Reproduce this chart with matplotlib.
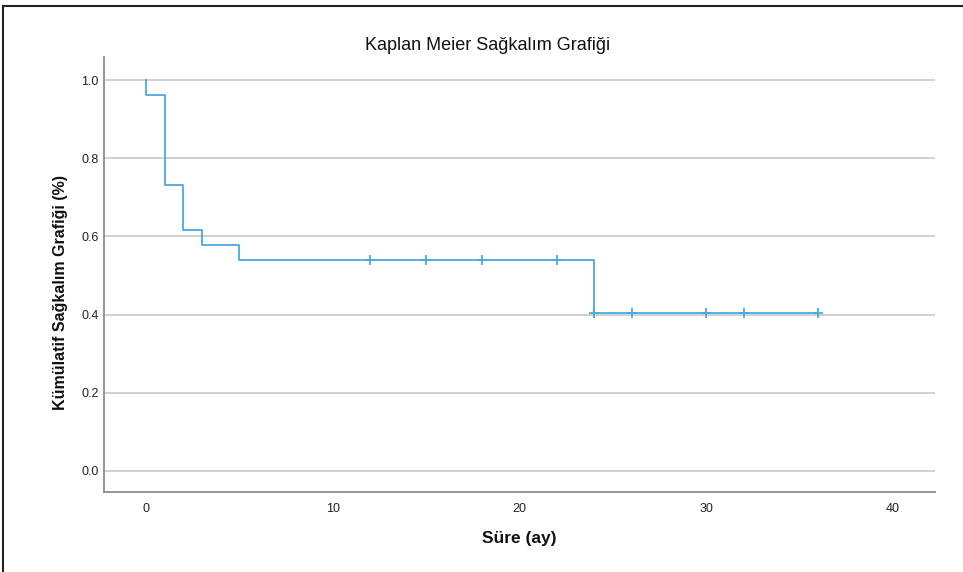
import matplotlib
matplotlib.use("Agg")
import matplotlib.pyplot as plt
from matplotlib.lines import Line2D
import numpy as np

plt.rcParams['font.family'] = ['Liberation Sans', 'DejaVu Sans']

# Kaplan-Meier step data (event times and survival after each event)
event_times = [0, 0, 1, 2, 3, 5, 24, 36]
survival = [1.0, 0.9615, 0.7308, 0.6154, 0.5769, 0.5385, 0.4038, 0.4038]
censor_times = [12, 15, 18, 22, 24, 26, 30, 32, 36]
x_ticks = [0, 10, 20, 30, 40]
y_ticks = [0.0, 0.2, 0.4, 0.6, 0.8, 1.0]

title = "Kaplan Meier Sağkalım Grafiği"
xlabel = "Süre (ay)"
ylabel = "Kümülatif Sağkalım Grafiği (%)"

def surv_at(t):
    val = survival[0]
    for et, s in zip(event_times, survival):
        if et <= t:
            val = s
    return val

censor_vals = [surv_at(t) for t in censor_times]

fig = plt.figure(figsize=(9.63, 5.72), dpi=100)
W, H = 963, 572
ax = fig.add_axes([104 / W, 1 - 492 / H, (935 - 104) / W, (492 - 57) / H])

line_color = '#4aa8e2'
ax.step(event_times, survival, where='post', color=line_color, lw=1.3, zorder=3)
ax.plot(censor_times, censor_vals, linestyle='none', marker='+', color=line_color,
        markersize=7, markeredgewidth=1.3, zorder=4)

ax.set_xlim(-2.25, 42.25)
ax.set_ylim(-0.054, 1.059)
ax.set_xticks(x_ticks)
ax.set_yticks(y_ticks)
ax.set_xticklabels([str(v) for v in x_ticks])
ax.set_yticklabels([f"{v:.1f}" for v in y_ticks])
ax.tick_params(axis='both', length=0, labelsize=9, colors='#222222')
ax.tick_params(axis='y', pad=4)
ax.tick_params(axis='x', pad=8)

for y in y_ticks:
    ax.axhline(y, color='#c8c8c8', lw=1.2, zorder=1)

for s in ['top', 'right']:
    ax.spines[s].set_visible(False)
for s in ['left', 'bottom']:
    ax.spines[s].set_color('#8c8c8c')
    ax.spines[s].set_linewidth(1.3)

fig.text(488 / W, 1 - 46 / H, title, ha='center', va='center', fontsize=13, color='#111111')
fig.text(519 / W, 1 - 538 / H, xlabel, ha='center', va='center', fontsize=12.5,
         fontweight='bold', color='#111111')
fig.text(60 / W, 1 - 292 / H, ylabel, ha='center', va='center', rotation=90,
         fontsize=11.5, fontweight='bold', color='#111111')

# outer frame lines (top and left)
fig.add_artist(Line2D([3 / W, 1.0], [1 - 6 / H, 1 - 6 / H], color='#222222', lw=1.5,
                      transform=fig.transFigure))
fig.add_artist(Line2D([3 / W, 3 / W], [0, 1 - 6 / H], color='#222222', lw=1.5,
                      transform=fig.transFigure))

fig.savefig('out.png', dpi=100)
